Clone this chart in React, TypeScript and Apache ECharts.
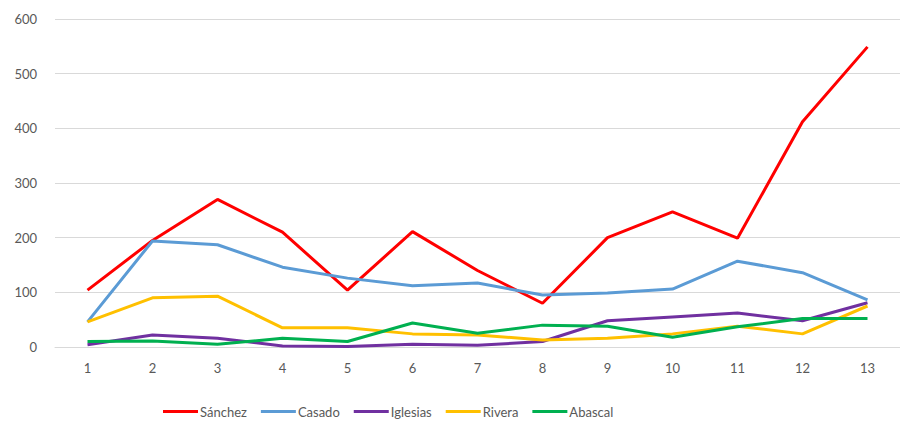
import React, { useEffect, useRef } from "react";
import * as echarts from "echarts";

const categories = ["1", "2", "3", "4", "5", "6", "7", "8", "9", "10", "11", "12", "13"];
const sanchez = [104, 195, 270, 210, 104, 211, 140, 80, 200, 247, 199, 412, 549];
const casado = [46, 194, 187, 146, 126, 112, 117, 95, 99, 106, 157, 136, 86];
const iglesias = [4, 22, 16, 2, 1, 5, 3, 10, 48, 55, 62, 48, 81];
const rivera = [46, 90, 93, 35, 35, 24, 22, 13, 16, 24, 38, 24, 75];
const abascal = [10, 11, 5, 16, 10, 44, 25, 40, 38, 18, 37, 52, 52];

const seriesNames = ["Sánchez", "Casado", "Iglesias", "Rivera", "Abascal"];
const seriesValues = [sanchez, casado, iglesias, rivera, abascal];
const seriesColors = ["#FF0000", "#5B9BD5", "#7030A0", "#FFC000", "#00B050"];

export default function App() {
  const ref = useRef<HTMLDivElement>(null);
  useEffect(() => {
    if (!ref.current) return;
    const chart = echarts.init(ref.current, undefined, { renderer: "svg" });
    const font = "Lato, 'Liberation Sans', sans-serif";
    chart.setOption({
      animation: false,
      backgroundColor: "#ffffff",
      textStyle: { fontFamily: font },
      grid: { left: 55, top: 19, bottom: 74, width: 850 },
      legend: {
        bottom: 3,
        left: 163,
        padding: 0,
        icon: "rect",
        itemWidth: 35,
        itemHeight: 3,
        itemGap: 14,
        textStyle: { color: "#595959", fontSize: 13, fontFamily: font, padding: [0, 0, 0, -3] },
        data: seriesNames,
      },
      xAxis: {
        type: "category",
        data: categories,
        boundaryGap: true,
        axisLine: { lineStyle: { color: "#D9D9D9" } },
        axisTick: { show: false },
        axisLabel: { color: "#595959", fontSize: 13, margin: 14 },
      },
      yAxis: {
        type: "value",
        min: 0,
        max: 600,
        interval: 100,
        axisLine: { show: false },
        axisTick: { show: false },
        axisLabel: { color: "#595959", fontSize: 13, margin: 18 },
        splitLine: { lineStyle: { color: "#D9D9D9", width: 1 } },
      },
      series: seriesNames.map((name, i) => ({
        name,
        type: "line",
        data: seriesValues[i],
        symbol: "none",
        color: seriesColors[i],
        lineStyle: { width: 3, color: seriesColors[i] },
      })),
    });
    return () => chart.dispose();
  }, []);
  return (
    <div
      ref={ref}
      style={{ position: "fixed", left: 0, top: 0, width: 900, height: 421, overflow: "hidden" }}
    />
  );
}
